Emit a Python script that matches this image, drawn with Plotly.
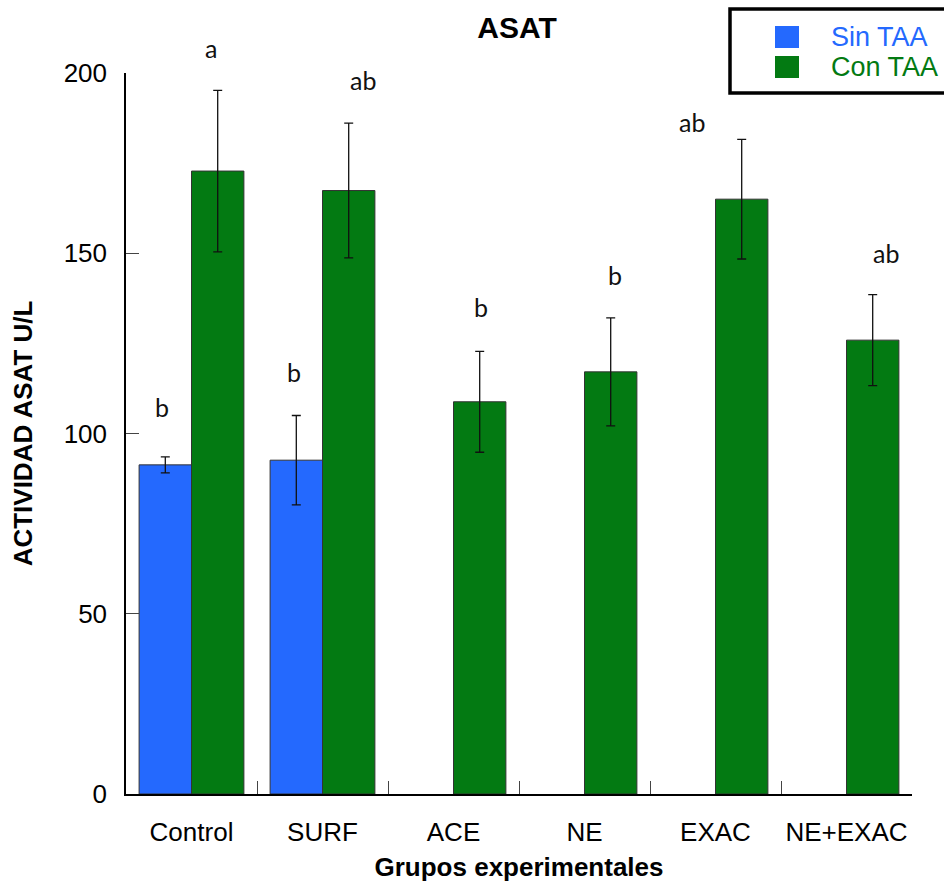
import plotly.graph_objects as go

# Grupos experimentales y actividad ASAT (U/L)
grupos = ["Control", "SURF", "ACE", "NE", "EXAC", "NE+EXAC"]
sin_taa = [91.3, 92.6, None, None, None, None]
sin_taa_err = [2.2, 12.4, None, None, None, None]
con_taa = [172.8, 167.4, 108.8, 117.1, 165.0, 125.9]
con_taa_err = [22.4, 18.7, 14.0, 15.0, 16.6, 12.6]

# Letras de significancia estadística (posición x en unidades de categoría, y en U/L)
letras = ["b", "a", "b", "ab", "b", "b", "ab", "ab"]
letras_x = [-0.225, 0.15, 0.78, 1.31, 2.21, 3.235, 3.82, 5.30]
letras_y = [107.3, 206.9, 117.1, 198.1, 135.2, 144.0, 186.5, 150.1]

Y_MAX = 200
AZUL = "#2469FE"
VERDE = "#037A12"
FONT = "Liberation Sans, Arial, sans-serif"

fig = go.Figure()
fig.add_trace(go.Bar(
    x=grupos, y=sin_taa, name="Sin TAA",
    marker=dict(color=AZUL, line=dict(color="#333333", width=1)),
    error_y=dict(type="data", array=sin_taa_err, color="#111111", thickness=1.3, width=4.5),
))
fig.add_trace(go.Bar(
    x=grupos, y=con_taa, name="Con TAA",
    marker=dict(color=VERDE, line=dict(color="#333333", width=1)),
    error_y=dict(type="data", array=con_taa_err, color="#111111", thickness=1.3, width=4.5),
))

# Las letras pueden quedar por encima del máximo del eje, así que se ubican en fracción del alto
for t, lx, ly in zip(letras, letras_x, letras_y):
    fig.add_annotation(x=lx, y=ly / Y_MAX, xref="x", yref="paper", text=t, showarrow=False,
                       xanchor="center", yanchor="middle",
                       font=dict(family="Lato, sans-serif", size=25, color="#111111"))

# Leyenda dibujada a mano: recuadro grueso, muestras de color y texto coloreado
fig.add_shape(type="rect", xref="paper", yref="paper",
              x0=(730 - 126) / 786, x1=(950 - 126) / 786,
              y0=(794 - 93) / 721, y1=(794 - 9) / 721,
              line=dict(color="black", width=3.5), fillcolor="white", layer="above")
for color, nombre, yc in [(AZUL, "Sin TAA", 37), (VERDE, "Con TAA", 67)]:
    fig.add_shape(type="rect", xref="paper", yref="paper",
                  x0=(775 - 126) / 786, x1=(799 - 126) / 786,
                  y0=(794 - (yc + 11)) / 721, y1=(794 - (yc - 11)) / 721,
                  line=dict(color="black", width=0), fillcolor=color, layer="above")
    fig.add_annotation(xref="paper", yref="paper", x=(829 - 126) / 786, y=(794 - yc) / 721,
                       xanchor="left", yanchor="middle", text=nombre, showarrow=False,
                       font=dict(family=FONT, size=27, color=color))

fig.update_layout(
    width=944, height=888,
    margin=dict(l=126, r=32, t=73, b=94, autoexpand=False),
    paper_bgcolor="white", plot_bgcolor="white",
    barmode="group", bargap=0.2, bargroupgap=0,
    showlegend=False,
    font=dict(family=FONT, size=26, color="black"),
    title=dict(text="<b>ASAT</b>", x=517 / 944, xanchor="center", y=1 - 27 / 888, yanchor="middle",
               font=dict(family=FONT, size=30, color="black"), automargin=False),
)
fig.update_xaxes(
    type="category", range=[-0.5, 5.5], automargin=False, tickangle=0,
    showline=True, linecolor="black", linewidth=1.5, mirror=False,
    ticks="inside", tickson="boundaries", ticklen=13, tickwidth=1.2, tickcolor="#444444",
    ticklabelstandoff=14,
    tickfont=dict(family=FONT, size=26, color="black"),
    showgrid=False,
    title=dict(text="<b>Grupos experimentales</b>", standoff=12,
               font=dict(family=FONT, size=26, color="black")),
)
fig.update_yaxes(
    range=[0, Y_MAX], tickvals=[0, 50, 100, 150, 200], automargin=False,
    showline=True, linecolor="black", linewidth=1.5,
    ticks="inside", ticklen=13, tickwidth=1.2, tickcolor="#444444",
    ticklabelstandoff=12,
    tickfont=dict(family=FONT, size=26, color="black"),
    showgrid=False, zeroline=False,
    title=dict(text="<b>ACTIVIDAD ASAT U/L</b>", standoff=24,
               font=dict(family=FONT, size=26, color="black")),
)

fig.write_html("out.html")
